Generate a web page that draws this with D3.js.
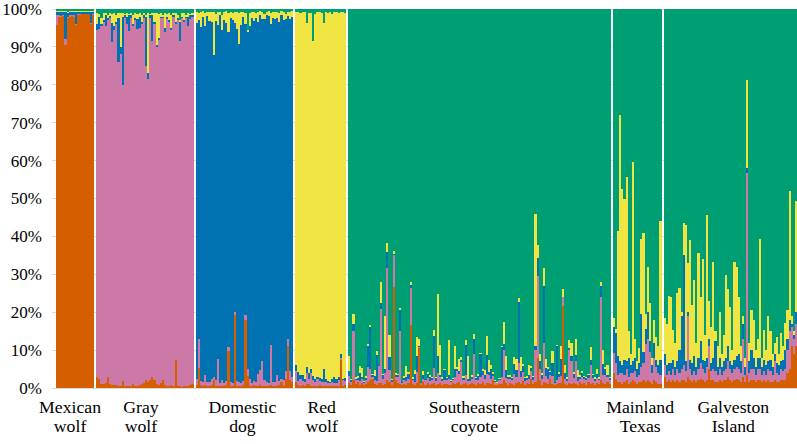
<!DOCTYPE html>
<html><head><meta charset="utf-8">
<script src="https://cdn.jsdelivr.net/npm/d3@7"></script>
<style>body{margin:0;background:#fff} svg{display:block}</style>
</head><body><svg id="chart" width="797" height="444"></svg>
<script>
// ---- Data (percent ancestry per individual; the group's dominant cluster is the remainder) ----
const clusterKeys = ["orange","pink","blue","yellow","green"];
const clusterColors = ["#D55E00","#CC79A7","#0072B2","#F0E442","#009E73"];
const yTicks = [0,10,20,30,40,50,60,70,80,90,100];

// Mexican wolf (dominant orange)
const mexicanPink   = [2.5,0.3,0.3,0.3,1.8,0.3,0.3,0.3,0.5,0.3,0.3,0.2,0.2,0.2,0.2,0.2,0.3,0.3];
const mexicanBlue   = [0.8,1.0,1.0,0.9,7.0,1.0,1.0,0.8,0.9,3.2,0.6,0.5,0.4,0.4,0.5,0.4,2.8,0.6];
const mexicanYellow = [0.3,0.3,0.3,0.2,0.3,0.3,0.3,0.3,0.2,0.3,0.3,0.3,0.2,0.3,0.3,0.3,0.3,0.3];
const mexicanGreen  = [0.5,0.4,0.6,0.5,0.5,0.7,0.4,0.5,0.6,0.5,0.4,0.5,0.6,0.5,0.4,0.5,0.6,0.5];

// Gray wolf (dominant pink)
const grayOrange = [3.0,2.5,1.0,1.0,1.2,2.8,1.0,0.8,0.8,0.7,0.6,0.6,1.8,0.5,0.6,0.4,0.5,1.0,0.4,0.6,0.7,1.0,1.2,2.0,1.5,2.2,3.0,2.0,1.0,0.8,1.2,2.0,0.7,0.5,0.6,0.8,0.5,7.3,0.5,0.4,0.3,0.4,0.4,0.5,0.8,1.0];
const grayBlue   = [1.5,3.0,0.5,0.5,3.0,0.5,0.5,5.0,1.0,0.5,11.5,2.0,18.0,0.8,2.0,4.0,1.0,0.5,0.5,2.5,3.0,0.5,1.0,13.0,1.5,0.8,7.0,0.5,0.5,0.5,0.5,0.5,1.0,0.5,0.5,0.5,0.5,0.5,0.5,5.0,0.5,0.5,0.5,2.5,1.0,0.5];
const grayYellow = [3.0,1.0,1.5,2.0,0.5,1.0,0.8,2.5,3.5,2.0,1.5,9.0,1.0,0.5,1.0,0.5,0.5,2.5,1.5,1.5,1.0,2.0,0.5,0.5,16.0,0.5,0.5,2.5,8.5,6.5,1.0,0.5,4.0,1.0,2.0,3.5,0.5,2.5,1.0,0.5,1.0,2.0,0.5,1.0,0.5,0.5];
const grayGreen  = [1.0,1.2,2.5,1.0,1.0,1.5,1.0,1.2,1.0,1.5,1.0,1.0,1.0,1.2,1.0,1.2,1.0,1.5,1.0,1.2,1.0,1.5,1.0,1.5,1.0,1.2,1.0,1.0,1.0,1.2,1.0,1.5,1.0,1.2,1.0,1.5,1.0,1.0,1.5,3.0,1.0,1.0,1.5,1.0,1.2,1.0];

// Domestic dog (dominant blue)
const dogOrange = [0.8,5.3,0.8,0.5,0.8,0.5,0.6,0.8,2.0,0.5,0.5,0.4,0.6,0.5,0.8,9.7,0.6,0.5,19.3,0.6,0.5,0.4,0.8,18.0,3.2,0.5,0.6,0.8,0.5,0.6,0.8,0.5,0.5,0.6,0.5,0.8,0.6,0.5,0.5,0.8,1.5,0.5,2.5,11.0,2.0,1.5];
const dogPink   = [1.5,7.5,1.0,1.2,2.5,1.0,1.0,1.5,1.0,1.5,7.2,1.0,1.5,0.8,1.0,1.0,1.0,0.8,0.8,1.2,1.0,0.8,1.0,1.2,1.7,2.0,0.8,1.0,1.0,3.0,4.0,6.5,1.5,1.0,0.8,10.5,1.0,1.2,3.0,1.0,1.0,1.5,2.0,1.8,2.5,1.5];
const dogYellow = [3.0,2.0,4.0,1.5,3.5,1.0,2.5,2.5,11.2,2.0,3.5,1.0,4.0,2.0,3.0,5.0,1.5,2.0,3.0,4.5,8.3,3.5,1.5,3.0,0.5,3.5,1.5,2.5,1.5,2.5,1.0,2.0,1.5,0.8,1.2,3.0,1.5,2.0,1.5,2.5,1.0,2.0,1.5,1.0,2.0,1.5];
const dogGreen  = [0.8,1.0,0.8,0.6,1.0,0.8,0.7,0.8,0.9,1.2,0.8,0.7,1.5,0.8,0.6,1.0,0.8,1.0,0.7,0.8,1.0,0.8,0.7,1.0,5.5,1.0,0.8,0.7,1.0,0.8,0.6,0.7,1.2,0.8,0.6,1.0,0.8,0.7,0.8,1.0,0.6,0.8,1.2,0.8,0.7,0.6];

// Red wolf (dominant yellow)
const redOrange = [1.5,0.8,0.5,0.8,0.5,1.0,1.0,0.5,0.6,0.5,0.5,0.8,0.5,0.5,0.6,0.5,0.4,0.5,0.4,0.5,0.5,7.5,0.5,0.8];
const redPink   = [3.0,1.0,2.0,1.0,1.0,3.0,1.5,3.5,1.5,1.0,2.0,1.0,1.0,1.0,1.0,0.8,0.8,1.0,1.0,0.8,1.5,0.5,1.5,1.0];
const redBlue   = [1.5,2.5,1.0,1.5,1.0,1.5,1.5,1.0,1.0,1.0,0.5,0.8,1.0,3.5,0.8,0.5,0.5,1.0,1.5,1.0,0.8,1.0,0.5,0.8];
const redGreen  = [0.8,0.8,1.0,0.8,0.8,3.6,1.0,1.0,8.4,1.2,0.8,0.8,1.0,3.6,0.8,1.0,0.8,1.2,0.8,0.8,1.0,0.8,0.8,1.0];

// Southeastern coyote (dominant green)
const coyoteOrange = [1.2,0.8,2.0,1.0,1.5,0.9,1.3,0.7,1.1,1.5,2.0,2.5,1.0,0.8,1.2,1.2,0.9,1.0,2.0,1.5,0.8,26.7,2.0,1.4,1.0,0.8,1.1,0.9,1.3,16.6,1.0,0.7,1.2,10.5,0.8,1.5,0.9,1.2,0.8,1.0,1.3,0.9,1.0,1.4,0.8,1.1,1.0,0.9,0.8,1.2,1.0,1.2,1.6,0.9,1.1,1.3,0.8,1.0,1.4,1.0,0.9,1.2,1.0,1.5,0.8,1.2,1.3,1.0,2.2,0.8,0.7,1.1,1.0,2.0,1.2,0.9,1.4,1.0,0.8,1.3,1.5,1.0,1.8,0.9,1.2,1.0,2.4,1.1,1.5,8.0,2.0,0.9,1.5,1.2,1.0,2.5,1.1,0.7,1.0,1.3,1.2,21.7,1.0,0.9,1.4,1.0,1.2,1.1,0.8,1.5,1.0,1.3,0.9,1.6,1.0,1.2,0.9,1.4,1.0,2.0,1.3,1.0,1.5,1.1];
const coyotePink   = [2.0,0.8,13.0,1.0,0.6,1.0,1.0,0.5,1.0,4.0,3.0,0.5,1.0,1.0,4.5,19.6,1.5,3.0,29.6,3.2,0.8,8.4,1.0,1.5,14.0,0.5,1.0,1.0,1.0,9.8,1.0,1.0,3.0,0.3,0.5,1.0,1.2,1.5,1.0,1.2,4.0,1.0,3.0,1.5,1.0,1.0,1.0,1.5,0.7,1.0,2.0,3.4,2.0,6.0,1.0,2.0,1.0,0.8,1.0,8.0,1.2,1.0,2.0,2.0,1.5,2.5,2.0,1.5,1.0,0.7,0.5,1.0,2.0,8.0,1.5,1.5,1.0,1.2,2.9,1.5,5.0,2.0,2.5,1.0,1.0,1.5,2.0,1.0,8.5,21.5,3.0,1.5,10.3,2.0,1.5,1.0,2.0,0.5,1.0,1.5,2.0,2.2,1.5,1.0,8.7,6.0,1.5,6.0,1.0,1.0,2.0,1.0,1.2,1.0,5.0,1.5,1.0,1.2,1.0,22.0,2.0,2.5,1.5,1.0];
const coyoteBlue   = [1.3,0.5,2.0,0.5,0.5,2.0,0.5,0.5,0.5,5.5,11.0,0.5,1.2,7.0,0.3,1.5,1.0,1.0,4.4,3.6,0.5,0.3,0.5,0.5,5.5,0.3,0.6,1.0,1.5,0.8,0.5,2.0,4.3,0.3,0.3,1.0,0.2,1.0,1.0,0.5,8.5,0.7,4.4,0.5,0.6,2.7,0.7,1.0,0.3,0.3,2.0,0.5,1.0,0.5,0.5,8.0,0.5,0.5,0.5,4.0,0.5,1.0,6.0,1.0,1.0,5.0,1.0,2.5,0.5,0.3,0.2,0.3,7.9,1.5,2.0,0.6,0.5,0.5,2.6,2.0,16.2,1.5,1.5,0.7,0.5,1.0,1.0,0.7,1.0,4.9,2.0,1.0,15.0,2.0,2.5,0.7,3.5,0.3,9.0,1.0,4.5,0.1,1.5,0.6,0.5,1.5,1.0,1.5,1.0,0.5,1.0,0.5,0.5,0.7,1.4,0.7,0.5,1.0,0.5,2.8,3.0,1.5,0.5,0.5];
const coyoteYellow = [4.0,0.3,2.4,0.3,0.5,2.0,2.5,0.2,0.5,0.6,0.6,0.3,1.5,1.0,0.2,5.8,0.4,14.0,2.2,5.7,0.2,0.8,0.5,0.3,0.5,0.1,0.4,3.0,0.5,0.9,0.5,1.0,5.0,1.7,0.1,1.0,0.1,0.5,0.5,0.3,1.4,0.3,16.5,7.9,0.4,0.1,0.3,9.2,0.2,0.2,6.0,0.5,3.0,0.8,0.5,1.4,6.2,0.2,0.5,1.2,0.3,0.5,0.2,0.5,1.5,4.9,3.0,1.0,0.5,0.2,0.1,0.2,0.2,6.0,3.8,0.3,0.5,0.3,1.8,2.9,1.0,3.8,0.6,0.3,0.5,2.5,0.5,0.3,35.0,3.3,2.0,0.5,4.9,2.4,0.5,0.3,3.1,0.2,0.3,0.5,3.4,2.2,2.0,0.4,2.0,3.3,0.5,4.2,2.0,0.5,0.5,0.3,0.3,0.3,3.5,0.3,0.5,1.5,0.3,1.3,3.6,0.6,2.5,0.3];

// Mainland Texas (dominant green)
const texasOrange = [3.9,2.5,1.5,1.5,1.0,1.5,2.0,1.0,1.5,2.0,1.5,1.0,1.5,1.5,2.0,1.5,2.0,1.5,1.0,2.0,1.5,1.0,1.0];
const texasPink   = [5.3,4.0,2.0,2.5,3.0,2.0,3.0,2.0,2.5,2.0,3.0,2.0,2.0,4.0,4.5,10.0,11.0,8.0,3.0,6.0,4.0,3.0,2.5];
const texasBlue   = [7.0,8.0,5.0,3.0,2.0,4.0,2.0,5.0,2.0,3.0,3.5,2.0,3.0,14.0,3.0,4.0,7.0,3.0,2.0,4.0,2.0,2.0,4.0];
const texasYellow = [2.2,1.0,33.0,65.0,46.5,42.4,48.8,7.0,3.0,52.5,5.0,2.0,4.0,19.7,31.5,4.0,12.0,10.0,2.0,6.0,6.0,5.0,36.6];

// Galveston Island (dominant green)
const galvestonOrange = [3,1.5,2,1.5,2,1.5,2,1.5,2,2,1.5,3,2,1.5,2,1.5,2,2.5,2,1.5,2,5,2,2,1.5,1.5,2,1.5,2,2,3,2,1.5,2,2.5,2,1.5,3,1.5,3.5,1.5,2,2,1.5,2,2,1.5,2,1.5,2,1.5,1.5,2,1.5,1.5,2,2,2,4,5,11,9,11];
const galvestonPink   = [3,2,2.5,2,3,2,3,2.5,3,4,3,16,3,2,2.5,2,3,4,3,2.5,3.5,6,2.5,3,3,2,3,2,2.5,3,4,3,2.5,3,3,3,2.5,10,2,53.1,2.5,3,3,2,3,3,2,2.5,2,3,3,2,5,2.5,2,3,2.5,3,6,10,5,4,6];
const galvestonBlue   = [3,2.5,2,3,2.5,2,2,6,14,29,2.5,1,2.5,3,4,2,3,6,2.5,3,2.5,2,2,3,8,2,3,2,2.5,3,4,2,2,2.5,3,4,3,4,2,1.5,3,5,3,2,3,3,2,3,2.5,2,3,2,2,2.5,2.5,2,3,5,3,3,1,1,3];
const galvestonYellow = [9.4,11,17.9,17.5,7.8,6.5,18,16.3,1,8.6,36,13,31.5,15.5,20,6.5,27.5,11.5,26.5,7,37.6,10,9.5,25.3,2.5,5.5,12,3.5,7,21.8,15,14.5,4,25.8,23.5,15,4,2,2.5,23.2,5,10.6,10,4.5,5,31.4,2.5,7.8,4,12,7.5,3.5,3,7,3,7.4,3.5,7.1,7.6,34,2,1,29.4];

const groupLabels = [["Mexican","wolf"],["Gray","wolf"],["Domestic","dog"],["Red","wolf"],["Southeastern","coyote"],["Mainland","Texas"],["Galveston","Island"]];
const groupDominant = ["orange","pink","blue","yellow","green","green","green"];
const groupParts = [
  {pink:mexicanPink, blue:mexicanBlue, yellow:mexicanYellow, green:mexicanGreen},
  {orange:grayOrange, blue:grayBlue, yellow:grayYellow, green:grayGreen},
  {orange:dogOrange, pink:dogPink, yellow:dogYellow, green:dogGreen},
  {orange:redOrange, pink:redPink, blue:redBlue, green:redGreen},
  {orange:coyoteOrange, pink:coyotePink, blue:coyoteBlue, yellow:coyoteYellow},
  {orange:texasOrange, pink:texasPink, blue:texasBlue, yellow:texasYellow},
  {orange:galvestonOrange, pink:galvestonPink, blue:galvestonBlue, yellow:galvestonYellow}
];

// ---- Build rows ----
const rows = [], slots = [], groupIds = [];
groupParts.forEach((parts, gi) => {
  if (gi > 0) slots.push("gap" + gi);
  const n = Object.values(parts)[0].length;
  const ids = [];
  for (let i = 0; i < n; i++) {
    const r = {id: "g" + gi + "_" + i};
    let s = 0;
    clusterKeys.forEach(k => { if (k !== groupDominant[gi]) { r[k] = parts[k][i]; s += r[k]; } });
    r[groupDominant[gi]] = 100 - s;
    rows.push(r); slots.push(r.id); ids.push(r.id);
  }
  groupIds.push(ids);
});

const FONT = "'Liberation Serif'";
const labelNudge = [-5, -4, -2, 1, -5, 3, 3];
const svg = d3.select("#chart");
const x = d3.scaleBand().domain(slots).range([56, 797]).padding(0);
const y = d3.scaleLinear().domain([0, 100]).range([388, 9]);
const color = d3.scaleOrdinal().domain(clusterKeys).range(clusterColors);

// gridlines
svg.append("g").selectAll("line").data(yTicks).join("line")
  .attr("x1", 52).attr("x2", 797)
  .attr("y1", d => y(d)).attr("y2", d => y(d))
  .attr("stroke", "#d9d9d9").attr("stroke-width", 1).attr("shape-rendering","crispEdges");

// stacked bars
const series = d3.stack().keys(clusterKeys)(rows);
svg.append("g").selectAll("g").data(series).join("g")
  .attr("fill", d => color(d.key))
  .selectAll("rect").data(d => d).join("rect")
  .attr("x", d => x(d.data.id))
  .attr("width", x.bandwidth())
  .attr("y", d => y(d[1]))
  .attr("height", d => Math.max(0, y(d[0]) - y(d[1])))
  .attr("shape-rendering", "crispEdges");

// y axis labels
const yAxis = svg.append("g").attr("transform", "translate(56,0)")
  .call(d3.axisLeft(y).tickValues(yTicks).tickSize(0).tickPadding(14).tickFormat(d => d + "%"));
yAxis.select(".domain").remove();
yAxis.selectAll("text")
  .style("font-family", FONT).style("font-size", "17px").attr("fill", "#000");

// group labels
const lab = svg.append("g").selectAll("text").data(groupLabels).join("text")
  .attr("text-anchor", "middle")
  .style("font-family", FONT).style("font-size", "17.7px").attr("fill", "#000")
  .attr("transform", (d, i) => {
    const ids = groupIds[i];
    const cx = (x(ids[0]) + x(ids[ids.length - 1]) + x.bandwidth()) / 2 + labelNudge[i];
    return "translate(" + cx + ",0)";
  });
lab.append("tspan").attr("x", 0).attr("y", 413).text(d => d[0]);
lab.append("tspan").attr("x", 0).attr("y", 432).text(d => d[1]);
</script>
</body></html>
